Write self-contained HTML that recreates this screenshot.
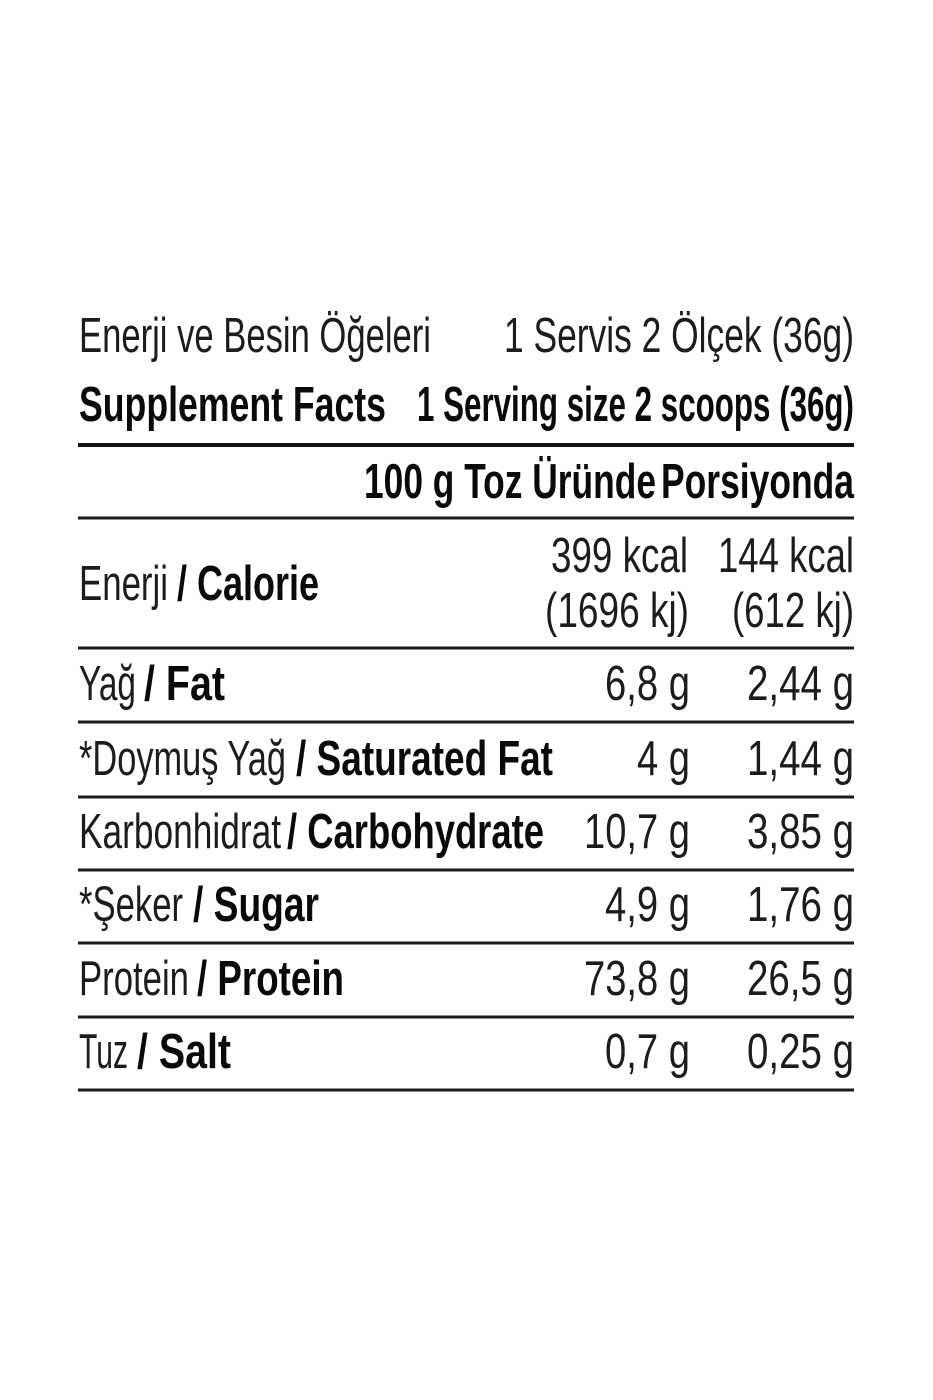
<!DOCTYPE html>
<html>
<head>
<meta charset="utf-8">
<style>
html,body{margin:0;padding:0;background:#fff;}
svg{display:block;}
.r{font-family:"Liberation Sans",sans-serif;font-size:49px;fill:#1c1c1c;font-weight:normal;}
.b{font-family:"Liberation Sans",sans-serif;font-size:49px;fill:#0a0a0a;font-weight:bold;}
</style>
</head>
<body>
<svg width="933" height="1400" viewBox="0 0 933 1400" xmlns="http://www.w3.org/2000/svg">
<rect width="933" height="1400" fill="#fff"/>
<!-- rules -->
<rect x="78" y="443" width="776" height="4" fill="#111"/>
<rect x="78" y="516.5" width="776" height="3" fill="#1a1a1a"/>
<rect x="78" y="646.5" width="776" height="3" fill="#1a1a1a"/>
<rect x="78" y="720.5" width="776" height="3" fill="#1a1a1a"/>
<rect x="78" y="795.5" width="776" height="3" fill="#1a1a1a"/>
<rect x="78" y="868.5" width="776" height="3" fill="#1a1a1a"/>
<rect x="78" y="941.5" width="776" height="3" fill="#1a1a1a"/>
<rect x="78" y="1015.5" width="776" height="3" fill="#1a1a1a"/>
<rect x="78" y="1088.5" width="776" height="3" fill="#1a1a1a"/>

<!-- header -->
<text class="r" x="79" y="352" textLength="352" lengthAdjust="spacingAndGlyphs">Enerji ve Besin Öğeleri</text>
<text class="r" x="504" y="352" textLength="350" lengthAdjust="spacingAndGlyphs">1 Servis 2 Ölçek (36g)</text>
<text class="b" x="79" y="421" textLength="307" lengthAdjust="spacingAndGlyphs">Supplement Facts</text>
<text class="b" x="417" y="421" textLength="437" lengthAdjust="spacingAndGlyphs">1 Serving size 2 scoops (36g)</text>
<text class="b" x="364" y="498" textLength="292" lengthAdjust="spacingAndGlyphs">100 g Toz Üründe</text>
<text class="b" x="661" y="498" textLength="193" lengthAdjust="spacingAndGlyphs">Porsiyonda</text>

<!-- calorie -->
<text class="r" x="79" y="600" textLength="89" lengthAdjust="spacingAndGlyphs">Enerji</text>
<text class="b" x="177" y="600" textLength="142" lengthAdjust="spacingAndGlyphs">/ Calorie</text>
<text class="r" x="551" y="572" textLength="137" lengthAdjust="spacingAndGlyphs">399 kcal</text>
<text class="r" x="718" y="572" textLength="136" lengthAdjust="spacingAndGlyphs">144 kcal</text>
<text class="r" x="545" y="627" textLength="144" lengthAdjust="spacingAndGlyphs">(1696 kj)</text>
<text class="r" x="732" y="627" textLength="122" lengthAdjust="spacingAndGlyphs">(612 kj)</text>

<!-- fat -->
<text class="r" x="79" y="700" textLength="57" lengthAdjust="spacingAndGlyphs">Yağ</text>
<text class="b" x="144" y="700" textLength="81" lengthAdjust="spacingAndGlyphs">/ Fat</text>
<text class="r" x="605" y="700" textLength="85" lengthAdjust="spacingAndGlyphs">6,8 g</text>
<text class="r" x="747" y="700" textLength="107" lengthAdjust="spacingAndGlyphs">2,44 g</text>

<!-- saturated -->
<text class="r" x="79" y="775" textLength="207" lengthAdjust="spacingAndGlyphs">*Doymuş Yağ</text>
<text class="b" x="296" y="775" textLength="257" lengthAdjust="spacingAndGlyphs">/ Saturated Fat</text>
<text class="r" x="637" y="775" textLength="53" lengthAdjust="spacingAndGlyphs">4 g</text>
<text class="r" x="747" y="775" textLength="107" lengthAdjust="spacingAndGlyphs">1,44 g</text>

<!-- carb -->
<text class="r" x="79" y="848" textLength="202" lengthAdjust="spacingAndGlyphs">Karbonhidrat</text>
<text class="b" x="287" y="848" textLength="257" lengthAdjust="spacingAndGlyphs">/ Carbohydrate</text>
<text class="r" x="584" y="848" textLength="106" lengthAdjust="spacingAndGlyphs">10,7 g</text>
<text class="r" x="747" y="848" textLength="107" lengthAdjust="spacingAndGlyphs">3,85 g</text>

<!-- sugar -->
<text class="r" x="79" y="921" textLength="104" lengthAdjust="spacingAndGlyphs">*Şeker</text>
<text class="b" x="193" y="921" textLength="126" lengthAdjust="spacingAndGlyphs">/ Sugar</text>
<text class="r" x="605" y="921" textLength="85" lengthAdjust="spacingAndGlyphs">4,9 g</text>
<text class="r" x="747" y="921" textLength="107" lengthAdjust="spacingAndGlyphs">1,76 g</text>

<!-- protein -->
<text class="r" x="79" y="995" textLength="110" lengthAdjust="spacingAndGlyphs">Protein</text>
<text class="b" x="197" y="995" textLength="147" lengthAdjust="spacingAndGlyphs">/ Protein</text>
<text class="r" x="584" y="995" textLength="106" lengthAdjust="spacingAndGlyphs">73,8 g</text>
<text class="r" x="747" y="995" textLength="107" lengthAdjust="spacingAndGlyphs">26,5 g</text>

<!-- salt -->
<text class="r" x="79" y="1068" textLength="49" lengthAdjust="spacingAndGlyphs">Tuz</text>
<text class="b" x="137" y="1068" textLength="94" lengthAdjust="spacingAndGlyphs">/ Salt</text>
<text class="r" x="605" y="1068" textLength="85" lengthAdjust="spacingAndGlyphs">0,7 g</text>
<text class="r" x="747" y="1068" textLength="107" lengthAdjust="spacingAndGlyphs">0,25 g</text>
</svg>
</body>
</html>
